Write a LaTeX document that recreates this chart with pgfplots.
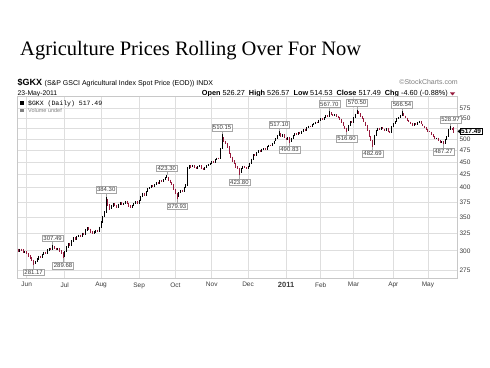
\documentclass[border=0pt]{standalone}
\usepackage{pgfplots}
\pgfplotsset{compat=1.18}
\usepackage{pgfplotstable}
\usepackage{fontspec}
\setmainfont{Liberation Sans}
\setmonofont{Liberation Mono}
\newfontfamily\titlefont{Liberation Serif}
\newcommand{\fs}[1]{\fontsize{#1}{#1}\selectfont}
\definecolor{dn}{RGB}{150,25,60}
\definecolor{gridc}{RGB}{222,222,222}
\definecolor{framec}{RGB}{200,200,200}
\definecolor{txt}{RGB}{60,60,60}

\pgfplotstableread{
x l h
1 299 303
4 297 300
10 282 287
11 285 290
12 288 293
14 290 296
15 294 299
17 296 302
18 300 304
20 301 307.49
23 301 304
27 291 300
28 298 306
29 304 311
31 307 315
32 313 319
34 315 321
35 319 323
37 320 326
39 323 331
40 329 334
44 324 328
45 326 330
47 327 335
48 333 343
49 341 352
50 350 360
51 357 384.3
54 363 369
55 367 373
58 365 372
59 370 375
61 369 373
62 371 377
66 365 370
67 368 373
68 371 376
70 372 379
71 377 385
72 383 391
74 386 394
75 392 399
76 397 401
77 399 405
79 401 407
80 405 411
82 407 414
84 410 416
85 414 420
86 418 423.3
93 383 392
94 390 396
96 392 401
97 399 406
98 404 440
99 436 444
101 439 444
104 435 441
105 439 443
108 433 439
109 437 443
110 441 446
111 444 448
112 446 452
114 448 456
115 454 459
117 456 480
118 477 510.15
129 427 437
130 435 442
133 436 442
134 440 448
135 446 457
136 455 466
138 462 471
139 469 475
141 471 478
142 476 479
144 475 483
145 481 487
147 483 491
148 489 496
149 494 501
150 499 508
151 506 517.1
153 504 510
156 497 504
158 493 501
159 499 508
160 506 513
162 509 516
164 512 519
165 517 523
167 519 527
168 525 531
170 527 534
171 532 537
172 535 541
174 537 545
175 543 549
177 544 552
178 550 557
180 552 567.7
183 554 560
191 519 533
192 531 542
194 537 553
195 551 561
196 559 570.5
206 486 509
207 507 521
208 519 526
210 520 527
213 518 525
216 514 529
217 527 537
218 535 543
219 541 549
220 547 553
221 551 558
222 556 566.54
229 531 537
231 533 539
232 537 543
242 499 503
245 491 495
247 489 500
248 498 506
249 504 523
250 521 528.97
}\uptable

\pgfplotstableread{
x l h
0 298 303
2 300 303
3 297 302
5 295 300
6 292 297
7 289 294
8 286 291
9 281.17 288
13 290 293
16 296 299
19 301 304
21 302 306
22 301 304
24 299 304
25 296 301
26 289.68 298
30 307 311
33 315 319
36 320 323
38 323 326
41 330 334
42 326 332
43 324 328
46 327 330
52 368 380
53 362 371
56 368 373
57 365 370
60 369 375
63 371 377
64 367 373
65 365 369
69 372 376
73 386 391
78 401 405
81 407 411
83 410 414
87 413 421
88 409 415
89 405 411
90 396 407
91 389 398
92 379.93 391
95 392 396
100 438 443
102 438 444
103 435 440
106 436 443
107 433 438
113 448 452
116 456 459
119 493 504
120 488 496
121 480 491
122 466 483
123 458 469
124 450 461
125 445 453
126 438 448
127 435 441
128 423.8 438
131 438 442
132 436 440
137 462 466
140 471 475
143 475 479
146 483 487
152 504 514
154 501 510
155 497 503
157 490.83 504
161 509 513
163 512 516
166 519 523
169 527 531
173 537 541
176 544 549
179 552 557
181 557 564
182 554 559
184 553 560
185 550 555
186 545 552
187 537 547
188 529 539
189 524 531
190 516.6 526
193 537 542
197 560 567
198 552 562
199 547 554
200 539 549
201 531 541
202 519 533
203 504 521
204 495 506
205 482.69 497
209 520 526
211 522 527
212 518 524
214 516 525
215 514 518
223 554 563
224 549 556
225 542 551
226 539 544
227 536 541
228 531 538
230 533 537
233 534 543
234 529 536
235 526 531
236 521 528
237 517 523
238 515 519
239 509 517
240 504 511
241 499 506
243 495 503
244 491 497
246 487.27 495
251 521 525
252 514.53 526.57
}\dntable

\tikzset{
  lab/.style={draw=gray!70, fill=white, inner sep=1.2pt, font=\fs{6}, text=txt},
  labline/.style={draw=gray!70, line width=0.4pt}
}
\newcommand{\hilab}[3]{\draw[labline] (axis cs:#1,#2) -- ([yshift=3.5pt]axis cs:#1,#2) node[lab, anchor=south] {#3};}
\newcommand{\lolab}[3]{\draw[labline] (axis cs:#1,#2) -- ([yshift=-3.5pt]axis cs:#1,#2) node[lab, anchor=north] {#3};}

\begin{document}
\begin{tikzpicture}[x=1pt,y=1pt]
\path[use as bounding box, fill=white] (0,0) rectangle (490,367);

% title
\node[anchor=base west, inner sep=0] at (20,311) {\titlefont\fs{20.5}Agriculture Prices Rolling Over For Now};

% header
\node[anchor=base west, inner sep=0] at (17.5,281) {\fs{9}\textbf{\$GKX} \fs{7}(S\&P GSCI Agricultural Index Spot Price (EOD)) INDX};
\node[anchor=base west, inner sep=0] at (17.5,271.5) {\fs{6.8}23-May-2011};
\node[anchor=base east, inner sep=0, text=gray] at (458,282) {\fs{7}©StockCharts.com};
\node[anchor=base east, inner sep=0] at (448,271.5) {\fs{7.3}\textbf{Open} 526.27 \ \textbf{High} 526.57 \ \textbf{Low} 514.53 \ \textbf{Close} 517.49 \ \textbf{Chg} -4.60 (-0.88\%)};
\fill[dn] (450,274.5) -- (455,274.5) -- (452.5,271.5) -- cycle;

\begin{axis}[
  at={(17pt,271pt)}, anchor=north west,
  scale only axis, width=440pt, height=182pt,
  ymode=log, ymin=265, ymax=608,
  xmin=-0.6, xmax=253.8,
  ytick={275,300,325,350,375,400,425,450,475,500,525,550,575},
  yticklabels={275,300,325,350,375,400,425,450,475,500,{},550,575},
  yticklabel pos=right,
  xtick={5,27,48,70,91,112,133,155,175,194,217,237},
  xticklabels={Jun,Jul,Aug,Sep,Oct,Nov,Dec,\textbf{\fs{7.5}2011},Feb,Mar,Apr,May},
  major tick length=0pt,
  grid=major,
  major grid style={draw=gridc, line width=0.6pt},
  axis line style={draw=framec, line width=0.6pt},
  tick label style={font=\fs{6.5}, text=txt},
  yticklabel style={anchor=west, xshift=-1pt},
  xticklabel style={anchor=north, yshift=-1pt},
  clip=false,
]
\addplot[draw=none, mark=none, forget plot,
  error bars/.cd, y dir=minus, y explicit, error mark=none,
  error bar style={line width=1pt, draw=black}]
  table[x=x, y=h, y error expr=\thisrow{h}-\thisrow{l}] {\uptable};
\addplot[draw=none, mark=none, forget plot,
  error bars/.cd, y dir=minus, y explicit, error mark=none,
  error bar style={line width=1pt, draw=dn}]
  table[x=x, y=h, y error expr=\thisrow{h}-\thisrow{l}] {\dntable};

\lolab{9}{281.17}{281.17}
\hilab{20}{307.49}{307.49}
\lolab{26}{289.68}{289.68}
\hilab{51}{384.3}{384.30}
\hilab{86}{423.3}{423.30}
\lolab{92}{379.93}{379.93}
\hilab{118}{510.15}{510.15}
\lolab{128}{423.8}{423.80}
\hilab{151}{517.1}{517.10}
\lolab{157}{490.83}{490.83}
\hilab{180}{567.7}{567.70}
\hilab{196}{570.5}{570.50}
\lolab{190}{516.6}{516.60}
\lolab{205}{482.69}{482.69}
\hilab{222}{566.54}{566.54}
\lolab{246}{487.27}{487.27}
\hilab{250}{528.97}{528.97}

% last price marker
\node[draw=black, fill=white, inner sep=1pt, anchor=west, font=\fs{6.5}\bfseries, xshift=3pt] (lp) at (axis cs:253.8,517.49) {517.49};
\fill[black] (lp.west) ++(-2.5pt,0pt) -- ++(2.5pt,2pt) -- ++(0pt,-4pt) -- cycle;

% legend text inside plot
\node[anchor=base west, inner sep=0] at (axis description cs:0.025,0.95) {\ttfamily\fs{6.5}\$GKX (Daily) 517.49};
\node[anchor=base west, inner sep=0, text=gray] at (axis description cs:0.025,0.91) {\fs{5.5}Volume undef};
\fill[black] (axis description cs:0.007,0.952) rectangle ++(4pt,3.5pt);
\fill[gray] (axis description cs:0.007,0.912) rectangle ++(4pt,3pt);
\end{axis}
\end{tikzpicture}
\end{document}
